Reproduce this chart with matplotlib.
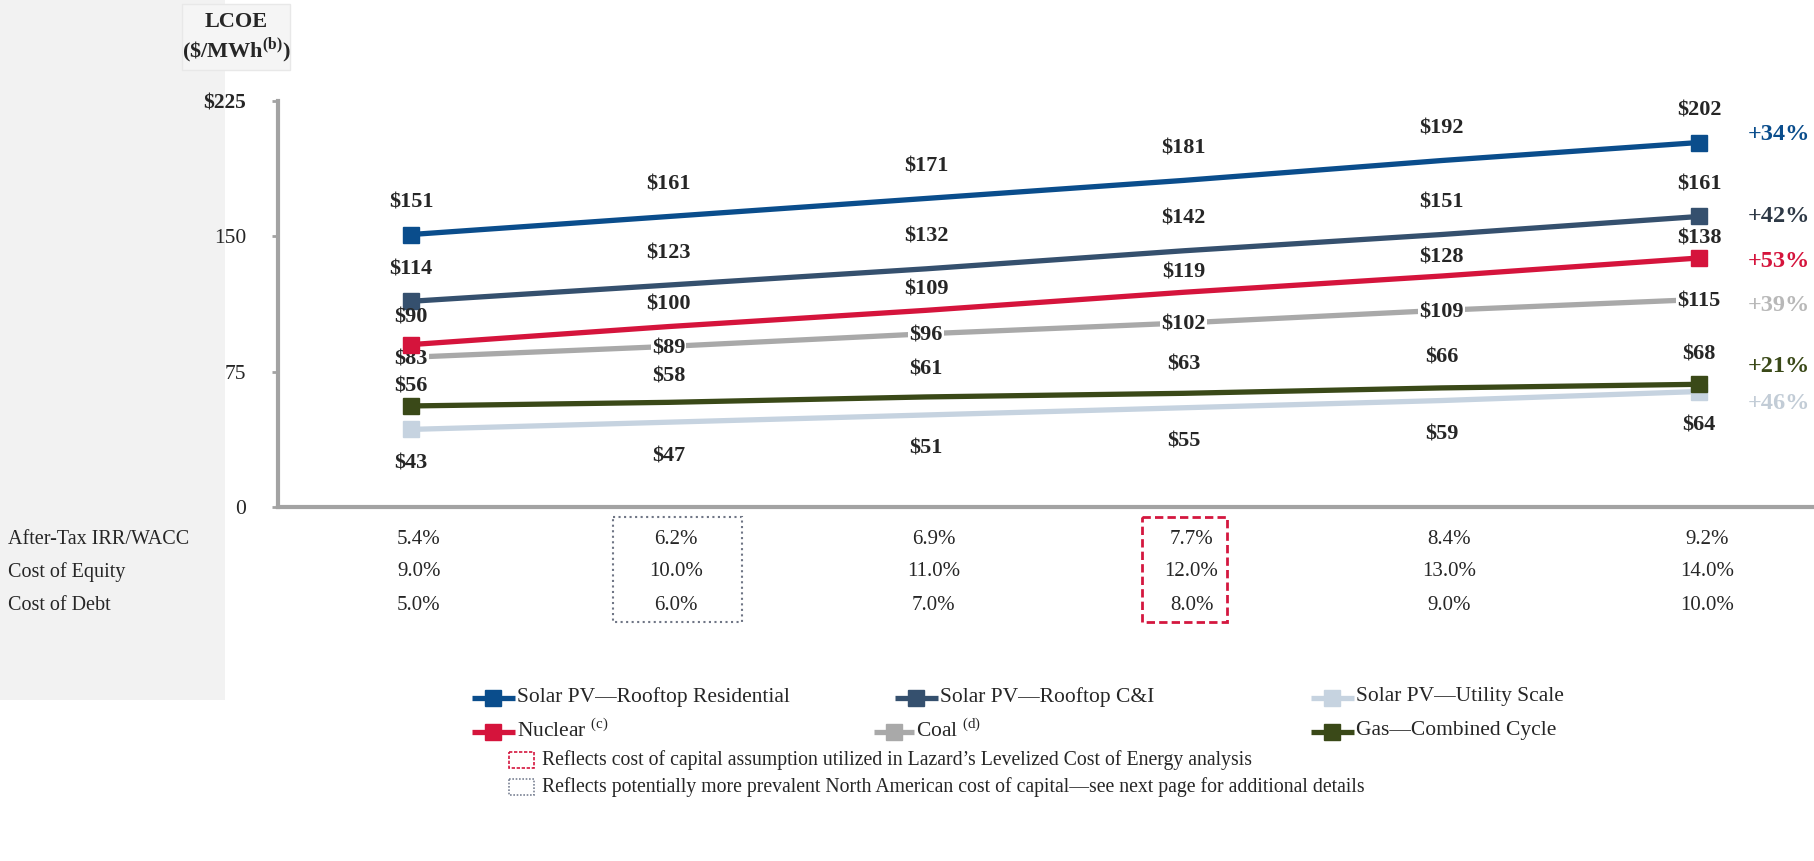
import matplotlib
matplotlib.use('Agg')
import matplotlib.pyplot as plt
from matplotlib.transforms import blended_transform_factory
from matplotlib.patches import Rectangle

plt.rcParams['font.family'] = ['Liberation Serif', 'DejaVu Serif']
plt.rcParams['mathtext.fontset'] = 'custom'
plt.rcParams['mathtext.rm'] = 'Liberation Serif'
plt.rcParams['mathtext.bf'] = 'Liberation Serif:bold'

# ---------------- data ----------------
periods = [0, 1, 2, 3, 4, 5]
residential = [151, 161, 171, 181, 192, 202]
commercial = [114, 123, 132, 142, 151, 161]
utility = [43, 47, 51, 55, 59, 64]
nuclear = [90, 100, 109, 119, 128, 138]
coal = [83, 89, 96, 102, 109, 115]
gas = [56, 58, 61, 63, 66, 68]
pct_change = {'res': '+34%', 'ci': '+42%', 'nuc': '+53%', 'coal': '+39%', 'gas': '+21%', 'util': '+46%'}

irr_wacc = ['5.4%', '6.2%', '6.9%', '7.7%', '8.4%', '9.2%']
cost_equity = ['9.0%', '10.0%', '11.0%', '12.0%', '13.0%', '14.0%']
cost_debt = ['5.0%', '6.0%', '7.0%', '8.0%', '9.0%', '10.0%']
row_labels = ['After-Tax IRR/WACC', 'Cost of Equity', 'Cost of Debt']

y_ticks = [0, 75, 150, 225]
y_tick_labels = ['0', '75', '150', '$225']

legend_names = ['Solar PV\u2014Rooftop Residential', 'Solar PV\u2014Rooftop C&I', 'Solar PV\u2014Utility Scale',
                'Nuclear $^{\\mathregular{(c)}}$', 'Coal $^{\\mathregular{(d)}}$', 'Gas\u2014Combined Cycle']
note_red = 'Reflects cost of capital assumption utilized in Lazard\u2019s Levelized Cost of Energy analysis'
note_gray = 'Reflects potentially more prevalent North American cost of capital\u2014see next page for additional details'

# ---------------- styles ----------------
C_RES = '#0a4d8c'
C_CI = '#35506e'
C_UTIL = '#c6d3e0'
C_NUC = '#d5143c'
C_COAL = '#a9a9a9'
C_GAS = '#3a4918'
TXT = '#262626'

W, H = 1815, 861
fig = plt.figure(figsize=(W / 100, H / 100), dpi=100)
fig.patch.set_facecolor('white')

# overlay axes in pixel coordinates (for text/legend placement)
ov = fig.add_axes([0, 0, 1, 1], zorder=0)
ov.set_xlim(0, W)
ov.set_ylim(H, 0)
ov.axis('off')
ov.add_patch(Rectangle((0, 0), 225, 700, facecolor='#f2f2f2', edgecolor='none'))
ov.add_patch(Rectangle((182, 4), 108, 66, facecolor='#f5f5f5', edgecolor='#e8e8e8', lw=1))

ax_left, ax_right, ax_top, ax_bot = 278, 1815, 101, 507
ax = fig.add_axes([ax_left / W, 1 - ax_bot / H, (ax_right - ax_left) / W, (ax_bot - ax_top) / H], zorder=2)
ax.patch.set_alpha(0)
x0px, x5px = 411, 1699
upx = (x5px - x0px) / 5
ax.set_xlim(-(x0px - ax_left) / upx, 5 + (ax_right - x5px) / upx)
ax.set_ylim(0, 225)

for s in ['top', 'right']:
    ax.spines[s].set_visible(False)
for s in ['left', 'bottom']:
    ax.spines[s].set_color('#a3a3a3')
    ax.spines[s].set_linewidth(3)
ax.set_xticks([])
ax.set_yticks(y_ticks)
ax.set_yticklabels(y_tick_labels)
ax.tick_params(axis='y', length=4, width=2, color='#a3a3a3', labelsize=15.5, labelcolor=TXT, pad=19)
for lbl in ax.get_yticklabels():
    if lbl.get_text().startswith('$'):
        lbl.set_fontweight('bold')

series = [
    ('util', utility, C_UTIL, 2),
    ('coal', coal, C_COAL, 2.2),
    ('gas', gas, C_GAS, 3),
    ('nuc', nuclear, C_NUC, 3.2),
    ('ci', commercial, C_CI, 3.4),
    ('res', residential, C_RES, 3.6),
]
for key, vals, col, z in series:
    ax.plot(periods, vals, color=col, lw=3.8, zorder=z, solid_capstyle='butt')
    ax.plot([periods[0], periods[-1]], [vals[0], vals[-1]], ls='none', marker='s', ms=11,
            color=col, zorder=z + 0.05)

# value label offsets (pixels) per series
offs = {'res': [32] * 6, 'ci': [32] * 6, 'nuc': [27, 22, 21, 20, 19, 19],
        'gas': [19, 26, 27, 29, 30, 30], 'util': [-34] * 6}
vals_map = {'res': residential, 'ci': commercial, 'nuc': nuclear, 'gas': gas, 'util': utility, 'coal': coal}
for key in ['res', 'ci', 'nuc', 'gas', 'util']:
    for i, v in zip(periods, vals_map[key]):
        ax.annotate(f'${v}', (i, v), xytext=(0, offs[key][i]), textcoords='offset pixels',
                    ha='center', va='center', fontsize=16, fontweight='bold', color=TXT, zorder=5)
for i, v in zip(periods, coal):
    ax.annotate(f'${v}', (i, v), xytext=(0, -2), textcoords='offset pixels',
                ha='center', va='center', fontsize=16, fontweight='bold', color=TXT, zorder=2.5,
                bbox=dict(boxstyle='square,pad=0.05', facecolor='white', edgecolor='none'))

pct_colors = {'res': C_RES, 'ci': '#2e3946', 'nuc': C_NUC, 'coal': '#b8b8b8', 'gas': C_GAS, 'util': '#c2ccd6'}
pct_off = {'res': 8, 'ci': 0, 'nuc': -4, 'coal': -6, 'gas': 18, 'util': -12}
xpct = 5 + (1779 - x5px) / upx
for key in ['res', 'ci', 'nuc', 'coal', 'gas', 'util']:
    v = vals_map[key][-1]
    ax.annotate(pct_change[key], (xpct, v), xytext=(0, pct_off[key]), textcoords='offset pixels',
                ha='center', va='center', fontsize=17.5, fontweight='bold', color=pct_colors[key],
                annotation_clip=False, zorder=5)

# title
ov.text(236, 22, 'LCOE', ha='center', va='center', fontsize=16, fontweight='bold', color=TXT)
ov.text(236, 50, '(\\$/MWh$^{\\mathbf{(b)}}$)', ha='center', va='center', fontsize=16,
        fontweight='bold', color=TXT)

# table
tr = blended_transform_factory(ax.transData, ov.transData)
row_y = [539, 572, 606]
for rl, ry, vals in zip(row_labels, row_y, [irr_wacc, cost_equity, cost_debt]):
    ov.text(8, ry, rl, ha='left', va='center', fontsize=14.5, color=TXT)
    for i, t in zip(periods, vals):
        ax.text(i + 0.03, ry, t, transform=tr, ha='center', va='center', fontsize=15, color=TXT,
                clip_on=False)

bx0 = (613 - x0px) / upx
bx1 = (742 - x0px) / upx
ax.add_patch(Rectangle((bx0, 517), bx1 - bx0, 105, transform=tr, fill=False, edgecolor='#6f7585',
                       lw=1.5, ls=':', clip_on=False))
rx0 = (1142 - x0px) / upx
rx1 = (1227 - x0px) / upx
ax.add_patch(Rectangle((rx0, 517), rx1 - rx0, 105, transform=tr, fill=False, edgecolor='#d4173f',
                       lw=2, ls=(0, (3, 1.5)), clip_on=False))

# legend
leg_cols = [C_RES, C_CI, C_UTIL, C_NUC, C_COAL, C_GAS]
leg_pos = [(472, 515, 698), (895, 938, 698), (1311, 1354, 698),
           (472, 515, 732), (874, 914, 732), (1311, 1354, 732)]
for name, col, (a, b, y) in zip(legend_names, leg_cols, leg_pos):
    ov.plot([a, b], [y, y], color=col, lw=3.8, solid_capstyle='butt')
    ov.plot([(a + b) / 2], [y], marker='s', ms=11, color=col, ls='none')
    ov.text(b + 2, y - 1, name, ha='left', va='center', fontsize=15.5, color=TXT)

ov.add_patch(Rectangle((509, 752), 25, 16, fill=False, edgecolor='#d4173f', lw=1.2, ls=(0, (2, 1))))
ov.add_patch(Rectangle((509, 779), 25, 16, fill=False, edgecolor='#7a8294', lw=1.2, ls=(0, (1, 1))))
ov.text(542, 760, note_red, ha='left', va='center', fontsize=14.2, color=TXT)
ov.text(542, 787, note_gray, ha='left', va='center', fontsize=14.2, color=TXT)

fig.savefig('out.png', dpi=100, facecolor=fig.get_facecolor())
